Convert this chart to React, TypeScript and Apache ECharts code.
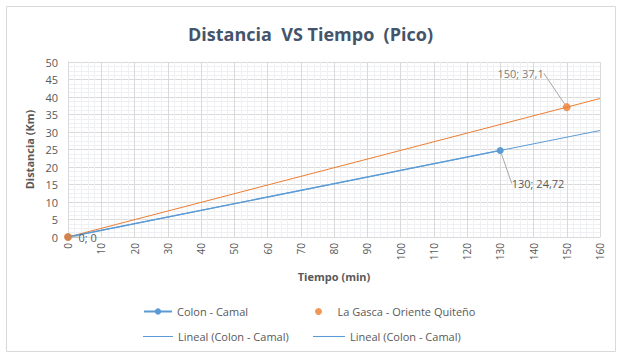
import React, { useEffect, useRef } from "react";
import * as echarts from "echarts";

const colonCamal: [number, number][] = [[0, 0], [130, 24.72]];
const laGasca: [number, number][] = [[0, 0], [150, 37.1]];
const trendColon: [number, number][] = [[0, 0], [160, 30.42]];
const trendGasca: [number, number][] = [[0, 0], [160, 39.57]];

const xMin = 0, xMax = 160, xStep = 10;
const yMin = 0, yMax = 50, yStep = 5;

const BLUE = "#5B9BD5";
const ORANGE = "#ED7D31";
const TXT = "#595959";
const FONT = "Open Sans";

const fmt = (v: number) => String(v).replace(".", ",");

export default function App() {
  const ref = useRef<HTMLDivElement>(null);
  useEffect(() => {
    const chart = echarts.init(ref.current!, null, { renderer: "svg" });
    const legendText = { color: TXT, fontSize: 11, fontFamily: FONT };
    const lineIcon = "path://M0,0 L30,0 L30,1 L0,1 Z";
    const labelBase = { show: true, color: TXT, fontSize: 11, fontFamily: FONT };
    chart.setOption({
      animation: false,
      backgroundColor: "#fff",
      title: {
        text: "Distancia  VS Tiempo  (Pico)",
        left: "center",
        top: 20,
        textStyle: { fontSize: 18, fontWeight: "bold", color: "#44546A", fontFamily: FONT },
      },
      graphic: [
        {
          type: "rect",
          shape: { x: 6.5, y: 6.5, width: 609, height: 345 },
          style: { fill: "none", stroke: "#D9D9D9", lineWidth: 1 },
          silent: true,
        },
      ],
      grid: { left: 68, right: 21, top: 62, bottom: 120 },
      xAxis: {
        type: "value",
        min: xMin,
        max: xMax,
        interval: xStep,
        name: "Tiempo (min)",
        nameLocation: "middle",
        nameGap: 34,
        nameTextStyle: { color: TXT, fontWeight: "bold", fontSize: 11, fontFamily: FONT },
        axisLine: { show: true, lineStyle: { color: "#D9D9D9" } },
        axisTick: { show: false },
        axisLabel: { rotate: 90, color: TXT, fontSize: 10, fontFamily: FONT, margin: 6 },
        splitLine: { show: true, lineStyle: { color: "#D9D9D9" } },
        minorTick: { show: false, splitNumber: 5 },
        minorSplitLine: { show: true, lineStyle: { color: "#EEF0F3" } },
      },
      yAxis: {
        type: "value",
        min: yMin,
        max: yMax,
        interval: yStep,
        name: "Distancia (Km)",
        nameLocation: "middle",
        nameGap: 32,
        nameRotate: 90,
        nameTextStyle: { color: TXT, fontWeight: "bold", fontSize: 11, fontFamily: FONT },
        axisLine: { show: true, lineStyle: { color: "#D9D9D9" } },
        axisTick: { show: false },
        axisLabel: { color: TXT, fontSize: 11, fontFamily: FONT, margin: 10 },
        splitLine: { show: true, lineStyle: { color: "#D9D9D9" } },
        minorTick: { show: false, splitNumber: 4 },
        minorSplitLine: { show: true, lineStyle: { color: "#EEF0F3" } },
      },
      legend: [
        { data: ["Colon - Camal"], left: 138, top: 301, itemWidth: 28, itemHeight: 8, textStyle: legendText },
        { data: ["La Gasca - Oriente Quiteño"], left: 310, top: 301, itemWidth: 28, itemHeight: 7, textStyle: legendText },
        {
          data: [{ name: "Lineal (Colon - Camal)", icon: lineIcon, itemStyle: { color: BLUE } }],
          left: 138, top: 326, itemWidth: 30, itemHeight: 6, textStyle: legendText,
        },
        {
          data: [{ name: "Lineal (Colon - Camal) ", icon: lineIcon, itemStyle: { color: BLUE } }],
          left: 308, top: 326, itemWidth: 32, itemHeight: 6, textStyle: legendText,
        },
      ],
      series: [
        {
          name: "Lineal (Colon - Camal)",
          type: "line",
          data: trendColon,
          symbol: "none",
          lineStyle: { color: BLUE, width: 1 },
          itemStyle: { color: BLUE },
          silent: true,
          z: 1,
        },
        {
          name: "Lineal (Colon - Camal) ",
          type: "line",
          data: trendGasca,
          symbol: "none",
          lineStyle: { color: ORANGE, width: 1 },
          itemStyle: { color: BLUE },
          silent: true,
          z: 1,
        },
        {
          name: "Colon - Camal",
          type: "line",
          data: colonCamal,
          symbol: "circle",
          symbolSize: 7,
          lineStyle: { color: BLUE, width: 1.3 },
          itemStyle: { color: BLUE },
          z: 3,
          label: {
            ...labelBase,
            position: "right",
            formatter: (p: any) => `${fmt(p.value[0])}; ${fmt(p.value[1])}`,
          },
          labelLayout: (p: any) =>
            p.dataIndex === 1 ? { dx: 3, dy: 33 } : { dx: 2, dy: 0 },
          labelLine: { show: true, lineStyle: { color: "#A6A6A6", width: 1 } },
        },
        {
          name: "La Gasca - Oriente Quiteño",
          type: "scatter",
          data: laGasca.map((v, i) => ({
            value: v,
            label: { show: i === laGasca.length - 1 },
            labelLine: { show: i === laGasca.length - 1 },
          })),
          symbol: "circle",
          symbolSize: 8,
          itemStyle: { color: ORANGE },
          z: 4,
          label: {
            ...labelBase,
            position: "left",
            formatter: (p: any) => `${fmt(p.value[0])}; ${fmt(p.value[1])}`,
          },
          labelLayout: { dx: -14, dy: -34 },
          labelLine: { lineStyle: { color: "#A6A6A6", width: 1 } },
        },
      ],
    });
    return () => chart.dispose();
  }, []);
  return (
    <div
      ref={ref}
      style={{ position: "absolute", left: 0, top: 0, width: 621, height: 357 }}
    />
  );
}
